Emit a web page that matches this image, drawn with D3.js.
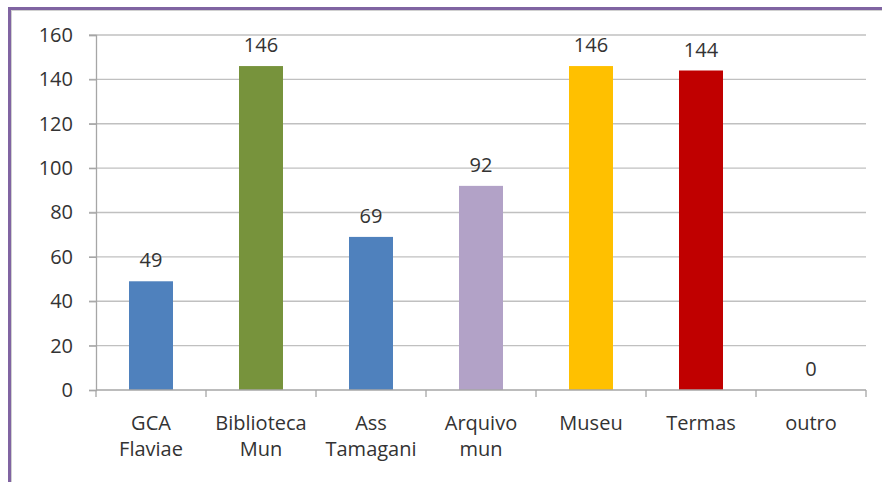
<!DOCTYPE html>
<html><head><meta charset="utf-8">
<script src="https://cdn.jsdelivr.net/npm/d3@7"></script>
<style>body{margin:0;background:#fff}svg{display:block}text{font-family:"Open Sans",sans-serif;fill:#333}</style>
</head><body>
<svg id="c" width="882" height="482"></svg>
<script>
const categories = [["GCA","Flaviae"],["Biblioteca","Mun"],["Ass","Tamagani"],["Arquivo","mun"],["Museu"],["Termas"],["outro"]];
const values = [49,146,69,92,146,144,0];
const colors = ["#4F81BD","#77933C","#4F81BD","#B2A2C7","#FFC000","#C00000","#4F81BD"];
const yTicks = [0,20,40,60,80,100,120,140,160];

const svg = d3.select("#c");
// frame
svg.append("rect").attr("x",11).attr("y",10).attr("width",900).attr("height",500)
  .attr("fill","none").attr("stroke","#d0d0d0").attr("stroke-width",2);
svg.append("rect").attr("x",9.5).attr("y",8.5).attr("width",900).attr("height",500)
  .attr("fill","none").attr("stroke","#8064A2").attr("stroke-width",3);

const x = d3.scaleBand().domain(d3.range(categories.length)).range([96,866]).paddingInner(0.6).paddingOuter(0.3);
const y = d3.scaleLinear().domain([0,160]).range([390,35]);
const fs = "20px";

// gridlines
svg.append("g").selectAll("line").data(yTicks.slice(1)).join("line")
  .attr("x1",89).attr("x2",866).attr("y1",d=>y(d)).attr("y2",d=>y(d))
  .attr("stroke","#c0c0c0").attr("stroke-width",1.3);

// y axis
const ya = svg.append("g").attr("transform","translate(96,0)")
  .call(d3.axisLeft(y).tickValues(yTicks).tickSize(7).tickPadding(16));
ya.select(".domain").attr("stroke","#a6a6a6").attr("stroke-width",1.3);
ya.selectAll(".tick line").attr("stroke","#a6a6a6").attr("stroke-width",1.3);
ya.selectAll("text").style("font-size",fs).attr("fill","#333");

// bars
svg.append("g").selectAll("rect").data(values).join("rect")
  .attr("x",(d,i)=>x(i)).attr("width",x.bandwidth())
  .attr("y",d=>y(d)).attr("height",d=>y(0)-y(d))
  .attr("fill",(d,i)=>colors[i]);

// x axis
const step = x.step();
const xa = svg.append("g");
xa.append("line").attr("x1",96).attr("x2",866).attr("y1",y(0)).attr("y2",y(0)).attr("stroke","#a6a6a6").attr("stroke-width",1.3);
xa.selectAll("line.t").data(d3.range(categories.length+1)).join("line").attr("class","t")
  .attr("x1",i=>96+i*step).attr("x2",i=>96+i*step).attr("y1",y(0)).attr("y2",y(0)+7)
  .attr("stroke","#a6a6a6").attr("stroke-width",1.3);
xa.selectAll("text").data(categories).join("text")
  .attr("text-anchor","middle").style("font-size",fs)
  .attr("transform",(d,i)=>`translate(${x(i)+x.bandwidth()/2},430)`)
  .each(function(d){ d3.select(this).selectAll("tspan").data(d).join("tspan")
    .attr("x",0).attr("dy",(t,j)=>j?26:0).text(t=>t); });

// value labels
svg.append("g").selectAll("text").data(values).join("text")
  .attr("text-anchor","middle").style("font-size",fs)
  .attr("x",(d,i)=>x(i)+x.bandwidth()/2).attr("y",d=>y(d)-14)
  .text(d=>d);
</script>
</body></html>
